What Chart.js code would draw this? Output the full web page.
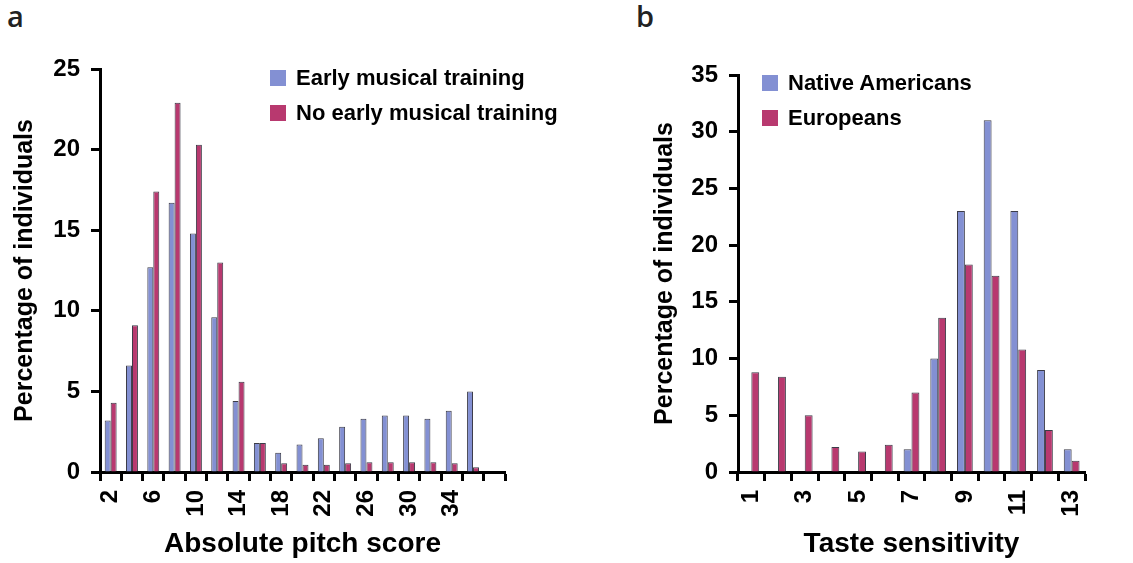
<!DOCTYPE html>
<html>
<head>
<meta charset="utf-8">
<script src="https://cdn.jsdelivr.net/npm/chart.js@4/dist/chart.umd.min.js"></script>
<style>
  body { margin: 0; background: #fff; width: 1133px; height: 563px; overflow: hidden; position: relative; font-family: "Liberation Sans", Arial, sans-serif; }
  .panel { position: absolute; top: 0; }
  .letter { position: absolute; top: -4px; font-family: "Open Sans", sans-serif; font-weight: 600; font-size: 29px; color: #222; }
  .legend { position: absolute; font-weight: bold; font-size: 22px; color: #000; }
  .legend div { height: 35px; line-height: 35px; white-space: nowrap; }
  .legend span { display: inline-block; width: 16px; height: 16px; margin-right: 10px; vertical-align: -1px; }
</style>
</head>
<body>
<div class="letter" style="left:7px">a</div>
<div class="letter" style="left:636px">b</div>
<div class="panel" style="left:0px"><canvas id="chartA" width="560" height="563"></canvas></div>
<div class="panel" style="left:640px"><canvas id="chartB" width="493" height="563"></canvas></div>
<div class="legend" id="legendA" style="left:270px; top:60px"></div>
<div class="legend" id="legendB" style="left:762px; top:65px"></div>

<script>
// panel a
const pitchScores = [2, 4, 6, 8, 10, 12, 14, 16, 18, 20, 22, 24, 26, 28, 30, 32, 34, 36, 38];
const pitchTicks = ['2', '', '6', '', '10', '', '14', '', '18', '', '22', '', '26', '', '30', '', '34', '', ''];
const earlyTraining = [3.2, 6.6, 12.7, 16.7, 14.8, 9.6, 4.4, 1.8, 1.2, 1.7, 2.1, 2.8, 3.3, 3.5, 3.5, 3.3, 3.8, 5.0, null];
const noEarlyTraining = [4.3, 9.1, 17.4, 22.9, 20.3, 13.0, 5.6, 1.8, 0.55, 0.45, 0.45, 0.55, 0.6, 0.6, 0.6, 0.6, 0.55, 0.3, null];

// panel b
const tasteLevels = [1, 2, 3, 4, 5, 6, 7, 8, 9, 10, 11, 12, 13];
const tasteTicks = ['1', '', '3', '', '5', '', '7', '', '9', '', '11', '', '13'];
const nativeAmericans = [0, 0, 0, 0, 0, 0, 2, 10, 23, 31, 23, 9, 2];
const europeans = [8.8, 8.4, 5, 2.2, 1.8, 2.4, 7, 13.6, 18.3, 17.3, 10.8, 3.7, 1];

const BLUE = '#8390d3';
const RED = '#b8396f';
const EDGE = '#3c3c48';

function makeLegend(id, items) {
  const box = document.getElementById(id);
  items.forEach(it => {
    const row = document.createElement('div');
    const sw = document.createElement('span');
    sw.style.background = it.color;
    row.appendChild(sw);
    row.appendChild(document.createTextNode(it.label));
    box.appendChild(row);
  });
}

function buildChart(canvasId, cfg) {
  const ctx = document.getElementById(canvasId).getContext('2d');
  return new Chart(ctx, {
    type: 'bar',
    data: {
      labels: cfg.categories,
      datasets: cfg.series.map(s => ({
        label: s.label,
        data: s.data,
        backgroundColor: s.color,
        borderColor: EDGE,
        borderWidth: 1,
        categoryPercentage: cfg.catPct,
        barPercentage: 1.0
      }))
    },
    options: {
      responsive: false,
      animation: false,
      layout: { padding: { left: 0, right: cfg.padRight, top: cfg.padTop, bottom: 0 } },
      plugins: { legend: { display: false }, tooltip: { enabled: false } },
      scales: {
        x: {
          grid: { display: true, offset: true, drawOnChartArea: false, drawTicks: true, tickLength: 9, tickWidth: 3, tickColor: '#000' },
          border: { display: true, width: 3, color: '#000' },
          ticks: {
            autoSkip: false, minRotation: 90, maxRotation: 90, padding: 9, color: '#000',
            font: { family: 'Liberation Sans', weight: 'bold', size: 24 },
            callback: (v, i) => cfg.tickLabels[i]
          },
          title: {
            display: true, text: cfg.xTitle, color: '#000',
            font: { family: 'Liberation Sans', weight: 'bold', size: 28 },
            padding: { top: 0, bottom: 2 }
          },
          afterFit: (s) => { s.height = 563 - cfg.bottom; }
        },
        y: {
          min: 0, max: cfg.yMax,
          grid: { display: true, drawOnChartArea: false, drawTicks: true, tickLength: 9, tickWidth: 3, tickColor: '#000' },
          border: { display: true, width: 3, color: '#000' },
          ticks: {
            stepSize: 5, padding: 11, color: '#000',
            font: { family: 'Liberation Sans', weight: 'bold', size: 24 }
          },
          title: {
            display: true, text: 'Percentage of individuals', color: '#000',
            font: { family: 'Liberation Sans', weight: 'bold', size: 25 },
            padding: { top: cfg.yTitlePad, bottom: 0 }
          },
          afterFit: (s) => { s.width = cfg.yWidth; }
        }
      }
    }
  });
}

buildChart('chartA', {
  categories: pitchScores,
  tickLabels: pitchTicks,
  series: [
    { label: 'Early musical training', data: earlyTraining, color: BLUE },
    { label: 'No early musical training', data: noEarlyTraining, color: RED }
  ],
  catPct: 0.56, yMax: 25, xTitle: 'Absolute pitch score',
  padRight: 55, padTop: 69, bottom: 472, yWidth: 100, yTitlePad: 10
});

buildChart('chartB', {
  categories: tasteLevels,
  tickLabels: tasteTicks,
  series: [
    { label: 'Native Americans', data: nativeAmericans, color: BLUE },
    { label: 'Europeans', data: europeans, color: RED }
  ],
  catPct: 0.59, yMax: 35, xTitle: 'Taste sensitivity',
  padRight: 48, padTop: 75, bottom: 472, yWidth: 98, yTitlePad: 10
});

makeLegend('legendA', [
  { label: 'Early musical training', color: BLUE },
  { label: 'No early musical training', color: RED }
]);
makeLegend('legendB', [
  { label: 'Native Americans', color: BLUE },
  { label: 'Europeans', color: RED }
]);
</script>
</body>
</html>
